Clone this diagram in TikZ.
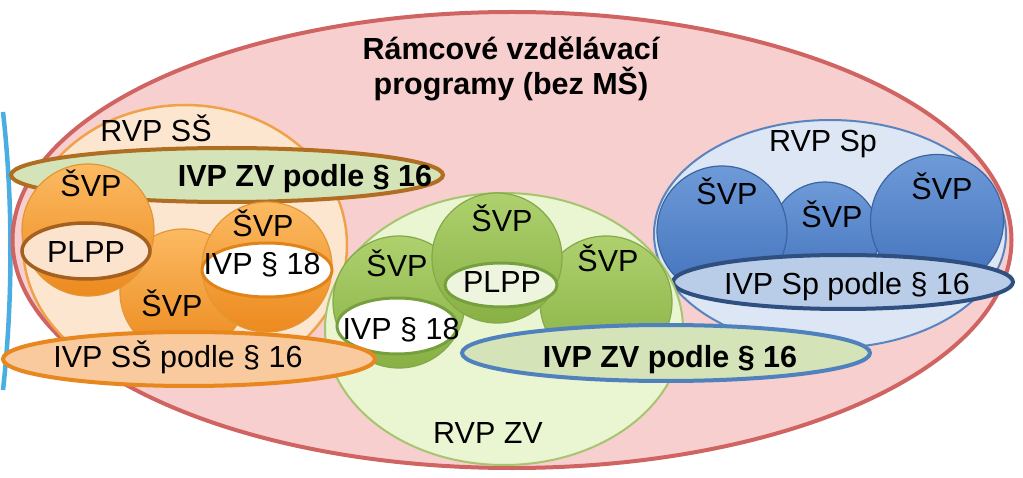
\documentclass[tikz,border=0pt]{standalone}
\usepackage{fontspec}
\setmainfont{Liberation Sans}
\usetikzlibrary{shapes.geometric}
\definecolor{outerFill}{HTML}{F8CFCF}
\definecolor{outerLine}{HTML}{CF6462}
\definecolor{arcBlue}{HTML}{4AAEE2}
\definecolor{ssFill}{HTML}{FDE6D0}
\definecolor{ssLine}{HTML}{EFA24A}
\definecolor{zvFill}{HTML}{D4E3B8}
\definecolor{brownLine}{HTML}{B06E22}
\definecolor{orTop}{HTML}{FCBA62}
\definecolor{orBot}{HTML}{EC8A1E}
\definecolor{orLine}{HTML}{E39636}
\definecolor{plppOr}{HTML}{FCE3CD}
\definecolor{plppOrLine}{HTML}{A3601E}
\definecolor{ivpOrLine}{HTML}{E2831A}
\definecolor{ssIvpFill}{HTML}{F9CA9E}
\definecolor{ssIvpLine}{HTML}{E8871E}
\definecolor{rvpzvFill}{HTML}{EAF5D2}
\definecolor{rvpzvLine}{HTML}{A6C56E}
\definecolor{grTop}{HTML}{AED16E}
\definecolor{grBot}{HTML}{88B044}
\definecolor{grLine}{HTML}{84A84A}
\definecolor{grInLine}{HTML}{76A03E}
\definecolor{plppGr}{HTML}{EEF5DE}
\definecolor{zvBlueLine}{HTML}{4F81BD}
\definecolor{spFill}{HTML}{DCE6F4}
\definecolor{spLine}{HTML}{5A84C0}
\definecolor{blTop}{HTML}{6E9AD8}
\definecolor{blBot}{HTML}{4272BC}
\definecolor{blLine}{HTML}{3C64A0}
\definecolor{spIvpFill}{HTML}{B9CDE8}
\definecolor{spIvpLine}{HTML}{2E4F80}
\begin{document}
\begin{tikzpicture}[x=1pt,y=-1pt,
  ell/.style={ellipse, inner sep=0pt, outer sep=0pt},
  orball/.style={circle, inner sep=0pt, minimum size=#1, draw=orLine, line width=1.2pt, top color=orTop, bottom color=orBot},
  grball/.style={circle, inner sep=0pt, minimum size=#1, draw=grLine, line width=1.2pt, top color=grTop, bottom color=grBot},
  blball/.style={circle, inner sep=0pt, minimum size=#1, draw=blLine, line width=1.2pt, top color=blTop, bottom color=blBot},
  txt/.style={anchor=base, inner sep=0pt, font=\fontsize{30.5}{36}\selectfont},
  btxt/.style={anchor=base, inner sep=0pt, font=\fontsize{30.5}{36}\selectfont\bfseries}
]
\useasboundingbox (0,0) rectangle (1023,478);
\fill[white] (0,0) rectangle (1023,478);

% left blue arc
\coordinate (arcA) at (3,112);
\coordinate (arcB) at (3,390);
\draw[arcBlue, line width=4.5pt] (arcA) .. controls (13,200) and (13,300) .. (arcB);

% outer ellipse
\node[ell, minimum width=999pt, minimum height=456pt, fill=outerFill, draw=outerLine, line width=4pt] (outer) at (512,240) {};

% ---------- orange group ----------
\node[ell, minimum width=324pt, minimum height=280pt, fill=ssFill, draw=ssLine, line width=2.5pt] (rvpss) at (185,245) {};
\node[ell, minimum width=432pt, minimum height=54pt, fill=zvFill, draw=brownLine, line width=4pt] (zvtop) at (227,175) {};
\node[orball=126pt] (orB) at (183,292) {};
\node[orball=132pt] (orA) at (88,230) {};
\node[ell, minimum width=128pt, minimum height=56pt, fill=plppOr, draw=plppOrLine, line width=3.5pt] (plppA) at (86,251) {};
\node[orball=130pt] (orC) at (267,267) {};
\node[ell, minimum width=130pt, minimum height=54pt, fill=white, draw=ivpOrLine, line width=3pt] (ivpC) at (267,270) {};

% ---------- blue group ----------
\node[ell, minimum width=352pt, minimum height=228pt, fill=spFill, draw=spLine, line width=2pt] (rvpsp) at (830,234) {};
\node[blball=108pt] (blM) at (825,236) {};
\node[blball=130pt] (blL) at (722,231) {};
\node[blball=133pt] (blR) at (937,221) {};
\node[ell, minimum width=340pt, minimum height=54pt, fill=spIvpFill, draw=spIvpLine, line width=4pt] (ivpsp) at (843,282) {};

% ---------- green group ----------
\node[ell, minimum width=358pt, minimum height=272pt, fill=rvpzvFill, draw=rvpzvLine, line width=2pt] (rvpzv) at (504,329) {};
\node[grball=132pt] (grL) at (399,302) {};
\node[ell, minimum width=120pt, minimum height=56pt, fill=white, draw=grInLine, line width=3pt] (ivpL) at (397,326) {};
\node[grball=132pt] (grR) at (606,302) {};
\node[grball=130pt] (grT) at (497,258) {};
\node[ell, minimum width=112pt, minimum height=44pt, fill=plppGr, draw=grInLine, line width=3pt] (plppT) at (501,285) {};

% ---------- bottom ellipses ----------
\node[ell, minimum width=372pt, minimum height=54pt, fill=ssIvpFill, draw=ssIvpLine, line width=4pt] (ivpss) at (189,359) {};
\node[ell, minimum width=408pt, minimum height=56pt, fill=zvFill, draw=zvBlueLine, line width=4pt] (zvbot) at (666,353) {};

% ---------- texts ----------
\node[btxt] (t1) at (511,60) {Rámcové vzdělávací};
\node[btxt] (t2) at (511,95) {programy (bez MŠ)};
\node[txt] (tss) at (156,142) {RVP SŠ};
\node[btxt] (tzvtop) at (305,187) {IVP ZV podle § 16};
\node[txt] (tA) at (91,197) {ŠVP};
\node[txt] (tplppA) at (86,263) {PLPP};
\node[txt] (tC) at (263,237) {ŠVP};
\node[txt] (tivpC) at (262,275) {IVP § 18};
\node[txt] (tB) at (172,317) {ŠVP};
\node[txt] (tivpss) at (178,367) {IVP SŠ podle § 16};
\node[txt] (tgL) at (397,277) {ŠVP};
\node[txt] (tivpL) at (401,340) {IVP § 18};
\node[txt] (tgT) at (502,232) {ŠVP};
\node[txt] (tplppT) at (502,293) {PLPP};
\node[txt] (tgR) at (608,272) {ŠVP};
\node[txt] (trvpzv) at (488,443) {RVP ZV};
\node[btxt] (tzvbot) at (670,367) {IVP ZV podle § 16};
\node[txt] (tsp) at (823,152) {RVP Sp};
\node[txt] (tbL) at (727,205) {ŠVP};
\node[txt] (tbM) at (832,228) {ŠVP};
\node[txt] (tbR) at (942,200) {ŠVP};
\node[txt] (tivpsp) at (847,295) {IVP Sp podle § 16};
\end{tikzpicture}
\end{document}
